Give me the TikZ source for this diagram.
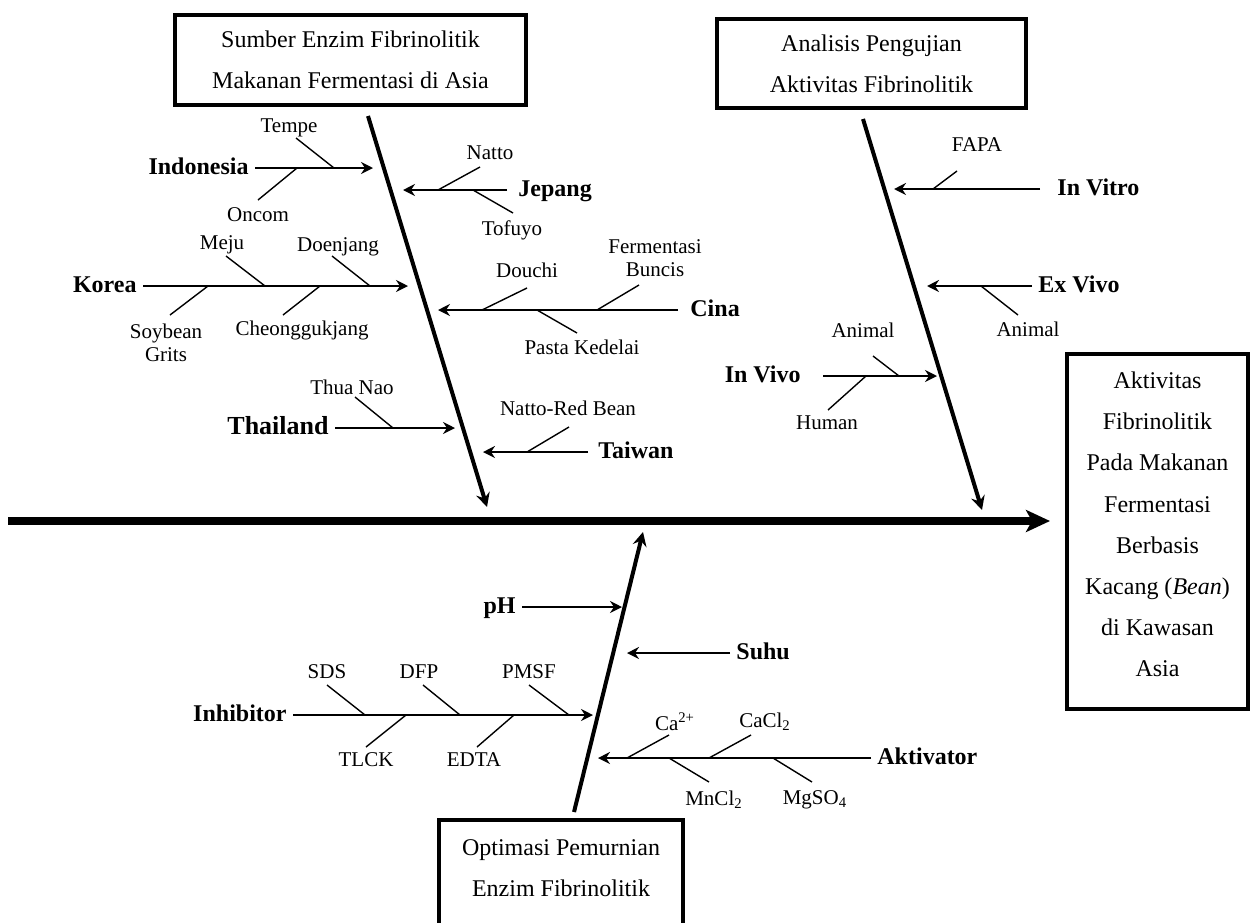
\documentclass[tikz,border=0pt]{standalone}
\usepackage{fontspec}
\setmainfont{Liberation Serif}
\usetikzlibrary{arrows.meta}

\tikzset{
  spine/.style={line width=4pt,-{Stealth[length=12pt,width=11pt,inset=3pt]}},
  bone/.style={line width=2pt,-{Stealth[length=7pt,width=7pt,inset=2.5pt]}},
  branch/.style={line width=1pt,-{Stealth[length=6pt,width=6pt,inset=2pt]}},
  twig/.style={line width=0.7pt},
  cause/.style={draw,line width=2pt,align=center,inner sep=0pt,font=\fontsize{12}{20.6}\selectfont},
  cat/.style={inner sep=3pt,text height=0.66em,text depth=0pt,font=\bfseries\fontsize{12}{14}\selectfont},
  item/.style={inner sep=1pt,align=center,font=\fontsize{10.5}{11.5}\selectfont}
}

\begin{document}
\begin{tikzpicture}[x=0.5pt,y=0.5pt,yscale=-1,xscale=1]
\useasboundingbox (0,0) rectangle (1252,922);
\clip (0,0) rectangle (1252,922);

%Effect box
\node[cause,minimum width=90.5pt,minimum height=177.5pt] (effect) at (1157.5,531.5) {};
\node[cause,draw=none] (effect-text) at (1157.5,524.5) {Aktivitas\\Fibrinolitik\\Pada Makanan\\Fermentasi\\Berbasis\\Kacang (\textit{Bean})\\di Kawasan\\Asia};
%Spine
\coordinate (tail) at (8,521);
\draw[spine,shorten >=7.5pt] (tail) -- (tail -| effect.west);

%Cause boxes
\node[cause,minimum width=175.5pt,minimum height=45pt] (sumber) at (350.5,60) {Sumber Enzim Fibrinolitik\\Makanan Fermentasi di Asia};
\node[cause,minimum width=154.5pt,minimum height=44.5pt] (analisis) at (871.5,63.5) {Analisis Pengujian\\Aktivitas Fibrinolitik};
\node[cause,draw=none,minimum width=120pt,minimum height=46pt,anchor=north] (optimasi) at (561,820) {Optimasi Pemurnian\\Enzim Fibrinolitik};
\draw[line width=2pt] ([yshift=20pt]optimasi.south west) rectangle (optimasi.north east);

%Bones
\coordinate (sumber-a) at (368,116);
\coordinate (sumber-b) at (487,507);
\draw[bone] (sumber-a) -- (sumber-b);
\coordinate (analisis-a) at (863,119);
\coordinate (analisis-b) at (982,510);
\draw[bone] (analisis-a) -- (analisis-b);
\coordinate (optimasi-a) at (574,812);
\coordinate (optimasi-b) at (643,532);
\draw[bone] (optimasi-a) -- (optimasi-b);

%Branch Indonesia
\node[cat,anchor=east] (indonesia) at (255,168) {Indonesia};
\coordinate (indonesia-t) at (373,168);
\draw[branch] (indonesia) -- (indonesia-t);
\node[item] (tempe) at (289,128) {Tempe};
\coordinate (tempe-a) at (296,138);
\coordinate (tempe-b) at (334,168);
\draw[twig] (tempe-a) -- (tempe-b);
\node[item] (oncom) at (258,215) {Oncom};
\coordinate (oncom-a) at (258,200);
\coordinate (oncom-b) at (297,168);
\draw[twig] (oncom-a) -- (oncom-b);

%Branch Korea
\node[cat,anchor=east] (korea) at (143,286) {Korea};
\coordinate (korea-t) at (408,286);
\draw[branch] (korea) -- (korea-t);
\node[item] (meju) at (222,245) {Meju};
\coordinate (meju-a) at (226,256);
\coordinate (meju-b) at (265,286);
\draw[twig] (meju-a) -- (meju-b);
\node[item] (doenjang) at (338,247) {Doenjang};
\coordinate (doenjang-a) at (332,256);
\coordinate (doenjang-b) at (370,286);
\draw[twig] (doenjang-a) -- (doenjang-b);
\node[item] (soybean) at (166,343) {Soybean\\Grits};
\coordinate (soybean-a) at (170,315);
\coordinate (soybean-b) at (208,286);
\draw[twig] (soybean-a) -- (soybean-b);
\node[item] (cheong) at (302,330) {Cheonggukjang};
\coordinate (cheong-a) at (283,315);
\coordinate (cheong-b) at (320,286);
\draw[twig] (cheong-a) -- (cheong-b);

%Branch Thailand
\node[cat,anchor=east,font=\bfseries\fontsize{13}{15}\selectfont] (thailand) at (335,428) {Thailand};
\coordinate (thailand-t) at (455,428);
\draw[branch] (thailand) -- (thailand-t);
\node[item] (thuanao) at (352,387) {Thua Nao};
\coordinate (thuanao-a) at (355,397);
\coordinate (thuanao-b) at (393,428);
\draw[twig] (thuanao-a) -- (thuanao-b);

%Branch Jepang
\node[cat,anchor=west] (jepang) at (512,190) {Jepang};
\coordinate (jepang-t) at (403,190);
\draw[branch,shorten <=2.5pt] (jepang) -- (jepang-t);
\node[item] (natto) at (490,153) {Natto};
\coordinate (natto-a) at (480,167);
\coordinate (natto-b) at (438,190);
\draw[twig] (natto-a) -- (natto-b);
\node[item] (tofuyo) at (512,230) {Tofuyo};
\coordinate (tofuyo-a) at (513,213);
\coordinate (tofuyo-b) at (473,190);
\draw[twig] (tofuyo-a) -- (tofuyo-b);

%Branch Cina
\node[cat,anchor=west] (cina) at (684,310) {Cina};
\coordinate (cina-t) at (438,310);
\draw[branch,shorten <=3pt] (cina) -- (cina-t);
\node[item] (douchi) at (527,270) {Douchi};
\coordinate (douchi-a) at (527,288);
\coordinate (douchi-b) at (482,310);
\draw[twig] (douchi-a) -- (douchi-b);
\node[item] (buncis) at (655,258) {Fermentasi\\Buncis};
\coordinate (buncis-a) at (639,285);
\coordinate (buncis-b) at (597,310);
\draw[twig] (buncis-a) -- (buncis-b);
\node[item] (pasta) at (582,347) {Pasta Kedelai};
\coordinate (pasta-a) at (577,333);
\coordinate (pasta-b) at (537,310);
\draw[twig] (pasta-a) -- (pasta-b);

%Branch Taiwan
\node[cat,anchor=west] (taiwan) at (592,452) {Taiwan};
\coordinate (taiwan-t) at (483,452);
\draw[branch,shorten <=2pt] (taiwan) -- (taiwan-t);
\node[item] (redbean) at (568,408) {Natto-Red Bean};
\coordinate (redbean-a) at (569,427);
\coordinate (redbean-b) at (527,452);
\draw[twig] (redbean-a) -- (redbean-b);

%Branch In Vitro
\node[cat,anchor=west] (invitro) at (1051,189) {In Vitro};
\coordinate (invitro-t) at (894,189);
\draw[branch,shorten <=5.5pt] (invitro) -- (invitro-t);
\node[item] (fapa) at (977,145) {FAPA};
\coordinate (fapa-a) at (957,171);
\coordinate (fapa-b) at (933,189);
\draw[twig] (fapa-a) -- (fapa-b);

%Branch Ex Vivo
\node[cat,anchor=west] (exvivo) at (1032,286) {Ex Vivo};
\coordinate (exvivo-t) at (927,286);
\draw[branch] (exvivo) -- (exvivo-t);
\node[item] (animal1) at (1028,329) {Animal};
\coordinate (animal1-a) at (1018,315);
\coordinate (animal1-b) at (981,286);
\draw[twig] (animal1-a) -- (animal1-b);

%Branch In Vivo
\node[cat,anchor=east] (invivo) at (807,376) {In Vivo};
\coordinate (invivo-t) at (937,376);
\draw[branch,shorten <=8pt] (invivo) -- (invivo-t);
\node[item] (animal2) at (863,330) {Animal};
\coordinate (animal2-a) at (873,356);
\coordinate (animal2-b) at (899,376);
\draw[twig] (animal2-a) -- (animal2-b);
\node[item] (human) at (827,423) {Human};
\coordinate (human-a) at (828,410);
\coordinate (human-b) at (866,376);
\draw[twig] (human-a) -- (human-b);

%Branch pH
\node[cat,anchor=east] (ph) at (522,607) {pH};
\coordinate (ph-t) at (622,607);
\draw[branch] (ph) -- (ph-t);

%Branch Suhu
\node[cat,anchor=west] (suhu) at (730,653) {Suhu};
\coordinate (suhu-t) at (627,653);
\draw[branch] (suhu) -- (suhu-t);

%Branch Inhibitor
\node[cat,anchor=east] (inhibitor) at (293,715) {Inhibitor};
\coordinate (inhibitor-t) at (593,715);
\draw[branch] (inhibitor) -- (inhibitor-t);
\node[item] (sds) at (327,672) {SDS};
\coordinate (sds-a) at (327,685);
\coordinate (sds-b) at (365,715);
\draw[twig] (sds-a) -- (sds-b);
\node[item] (dfp) at (419,672) {DFP};
\coordinate (dfp-a) at (423,685);
\coordinate (dfp-b) at (460,715);
\draw[twig] (dfp-a) -- (dfp-b);
\node[item] (pmsf) at (529,672) {PMSF};
\coordinate (pmsf-a) at (529,685);
\coordinate (pmsf-b) at (569,715);
\draw[twig] (pmsf-a) -- (pmsf-b);
\node[item] (tlck) at (366,760) {TLCK};
\coordinate (tlck-a) at (366,747);
\coordinate (tlck-b) at (406,715);
\draw[twig] (tlck-a) -- (tlck-b);
\node[item] (edta) at (474,760) {EDTA};
\coordinate (edta-a) at (477,747);
\coordinate (edta-b) at (514,715);
\draw[twig] (edta-a) -- (edta-b);

%Branch Aktivator
\node[cat,anchor=west] (aktivator) at (871,758) {Aktivator};
\coordinate (aktivator-t) at (598,758);
\draw[branch] (aktivator) -- (aktivator-t);
\node[item] (ca) at (675,722) {Ca\textsuperscript{2+}};
\coordinate (ca-a) at (669,735);
\coordinate (ca-b) at (627,758);
\draw[twig] (ca-a) -- (ca-b);
\node[item] (cacl) at (765,722) {CaCl\textsubscript{2}};
\coordinate (cacl-a) at (751,735);
\coordinate (cacl-b) at (709,758);
\draw[twig] (cacl-a) -- (cacl-b);
\node[item] (mncl) at (714,800) {MnCl\textsubscript{2}};
\coordinate (mncl-a) at (709,782);
\coordinate (mncl-b) at (669,758);
\draw[twig] (mncl-a) -- (mncl-b);
\node[item] (mgso) at (815,800) {MgSO\textsubscript{4}};
\coordinate (mgso-a) at (812,782);
\coordinate (mgso-b) at (773,758);
\draw[twig] (mgso-a) -- (mgso-b);

\end{tikzpicture}
\end{document}
